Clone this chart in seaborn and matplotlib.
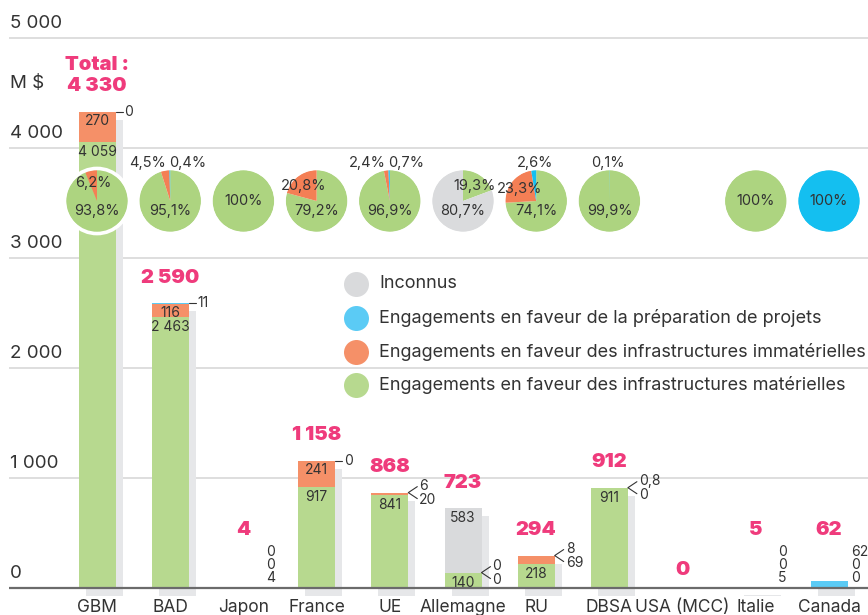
import numpy as np
import pandas as pd
import matplotlib
matplotlib.use("Agg")
import matplotlib.pyplot as plt
import matplotlib.transforms as mtransforms
from matplotlib.lines import Line2D
from matplotlib.patches import Circle
import seaborn as sns

# ---------------- data ----------------
categories = ["GBM", "BAD", "Japon", "France", "UE", "Allemagne", "RU",
              "DBSA", "USA (MCC)", "Italie", "Canada"]
materielles = [4059, 2463, 4, 917, 841, 140, 218, 911, 0, 5, 0]
immaterielles = [270, 116, 0, 241, 20, 0, 69, 0, 0, 0, 0]
preparation = [0, 11, 0, 0, 6, 0, 8, 0.8, 0, 0, 62]
inconnus = [0, 0, 0, 0, 0, 583, 0, 0, 0, 0, 0]
totals = [4330, 2590, 4, 1158, 868, 723, 294, 912, 0, 5, 62]

pct_materielles = [93.8, 95.1, 100, 79.2, 96.9, 19.3, 74.1, 99.9, 0, 100, 0]
pct_immaterielles = [6.2, 4.5, 0, 20.8, 2.4, 0, 23.3, 0, 0, 0, 0]
pct_preparation = [0, 0.4, 0, 0, 0.7, 0, 2.6, 0.1, 0, 0, 100]
pct_inconnus = [0, 0, 0, 0, 0, 80.7, 0, 0, 0, 0, 0]

y_ticks = [0, 1000, 2000, 3000, 4000, 5000]
y_tick_labels = ["0", "1 000", "2 000", "3 000", "4 000", "5 000"]
unit_label = "M $"
total_prefix = "Total :"
legend_labels = ["Inconnus",
                 "Engagements en faveur de la préparation de projets",
                 "Engagements en faveur des infrastructures immatérielles",
                 "Engagements en faveur des infrastructures matérielles"]

# ---------------- style ----------------
C_GREEN = "#b7d98f"
C_ORANGE = "#f59068"
C_BLUE = "#5bcbf5"
C_GRAY = "#d9dadc"
C_SHADOW = "#e6e7e9"
P_GREEN = "#add480"
P_ORANGE = "#f47f55"
P_BLUE = "#14bff0"
P_GRAY = "#dadbdd"
PINK = "#ef3b7c"
TXT = "#333333"

sns.set_style("white")
plt.rcParams["font.family"] = ["Inter", "DejaVu Sans"]

W, H = 868, 615
fig = plt.figure(figsize=(W / 100, H / 100), dpi=100)

# axes geometry (pixels)
ax_left_px, ax_right_px = 9, 868
ylim = (-100, 5010)
px_per_1000 = 110.0
base_px = 588
ax_h_px = (ylim[1] - ylim[0]) * px_per_1000 / 1000
ax_bottom_px = base_px + (-ylim[0]) * px_per_1000 / 1000
ax = fig.add_axes([ax_left_px / W, (H - ax_bottom_px) / H,
                   (ax_right_px - ax_left_px) / W, ax_h_px / H])
gbm_px, step_px = 97, 73.2
xlim = ((ax_left_px - gbm_px) / step_px, (ax_right_px - gbm_px) / step_px)

ux = (xlim[1] - xlim[0]) / (ax_right_px - ax_left_px)   # data per px
uy = (ylim[1] - ylim[0]) / ax_h_px
BW = 37 / step_px

df = pd.DataFrame({"cat": categories, "mat": materielles, "imm": immaterielles,
                   "prep": preparation, "inc": inconnus})
df["c1"] = df["mat"]
df["c2"] = df["c1"] + df["imm"]
df["c3"] = df["c2"] + df["prep"]
df["c4"] = df["c3"] + df["inc"]

# shadow bars (offset 7px right, 8px down)
n0 = len(ax.patches)
sns.barplot(data=df, x="cat", y="c4", color=C_SHADOW, saturation=1, width=BW,
            errorbar=None, ax=ax, linewidth=0, zorder=1)
shadow_tr = ax.transData + mtransforms.Affine2D().translate(7, -8)
for p in ax.patches[n0:]:
    p.set_transform(shadow_tr)

# stacked bars by overlay
for col, c in [("c4", C_GRAY), ("c3", C_BLUE), ("c2", C_ORANGE), ("c1", C_GREEN)]:
    sns.barplot(data=df, x="cat", y=col, color=c, saturation=1, width=BW,
                errorbar=None, ax=ax, linewidth=0, zorder=2)

ax.set_xlim(*xlim)
ax.set_ylim(*ylim)
for s in ax.spines.values():
    s.set_visible(False)
ax.set_xlabel("")
ax.set_ylabel("")
ax.set_yticks([])
ax.set_xticks(range(len(categories)))
ax.set_xticklabels(categories, fontsize=12.5, color=TXT)
ax.tick_params(axis="x", length=0, pad=0.3)

# grid + y labels
for v, lab in zip(y_ticks, y_tick_labels):
    if v == 0:
        ax.axhline(v, color="#6b6b6b", lw=1.6, zorder=6)
    else:
        ax.axhline(v, color="#d4d4d4", lw=1.1, zorder=0)
    ax.text(xlim[0] + 1 * ux, v + 14 * uy, lab, ha="left", va="center",
            fontsize=13.5, color=TXT)
ax.text(xlim[0] + 1 * ux, 4582, unit_label, ha="left", va="center",
        fontsize=13.5, color=TXT)


def fmt(v):
    if float(v).is_integer():
        return f"{int(v):,}".replace(",", " ")
    return f"{v:.1f}".replace(".", ",")


def fmtp(p):
    if float(p).is_integer():
        return f"{int(p)}%"
    return f"{p:.1f}".replace(".", ",") + "%"


small_fs = 10
pie_fs = 10.5
for i in range(len(categories)):
    mat, imm, prep, inc = materielles[i], immaterielles[i], preparation[i], inconnus[i]
    tot = totals[i]
    c3 = mat + imm + prep
    right = i + BW / 2
    # totals
    ty = (max(tot, 300) + 230) if tot > 0 else 160
    ax.text(i, ty, fmt(tot), ha="center", va="center", fontsize=14.5,
            fontweight="black", color=PINK, zorder=7)
    if i == 0:
        ax.text(i, ty + 21 * uy, total_prefix, ha="center", va="center",
                fontsize=14.5, fontweight="black", color=PINK, zorder=7)
    if tot <= 0:
        continue
    # inside labels
    if mat >= 100:
        ax.text(i, mat - 3 * uy, fmt(mat), ha="center", va="top",
                fontsize=small_fs, color=TXT, zorder=7)
    if imm >= 100:
        ax.text(i, mat + imm - 2 * uy, fmt(imm), ha="center", va="top",
                fontsize=small_fs, color=TXT, zorder=7)
    if inc >= 100:
        ax.text(i, c3 + inc - 3 * uy, fmt(inc), ha="center", va="top",
                fontsize=small_fs, color=TXT, zorder=7)
    # side labels
    if tot < 100:
        for k, v in enumerate([prep, imm, mat]):
            ax.text(right + 4 * ux, (36 - 13 * k) * uy, fmt(v), ha="left",
                    va="center", fontsize=small_fs, color=TXT, zorder=7)
    elif imm >= 100:
        ax.plot([right, right + 7 * ux], [c3, c3], color=TXT, lw=0.8, zorder=7)
        ax.text(right + 9 * ux, c3, fmt(prep), ha="left", va="center",
                fontsize=small_fs, color=TXT, zorder=7)
    else:
        ax.plot([right + 9 * ux, right, right + 9 * ux],
                [c3 + 6 * uy, c3, c3 - 6 * uy], color=TXT, lw=0.8, zorder=7)
        ax.text(right + 11 * ux, c3 + 7 * uy, fmt(prep), ha="left",
                va="center", fontsize=small_fs, color=TXT, zorder=7)
        ax.text(right + 11 * ux, c3 - 7 * uy, fmt(imm), ha="left",
                va="center", fontsize=small_fs, color=TXT, zorder=7)

# pies
pie_cy = (base_px - 201) * uy
pie_r_px = 31
for i in range(len(categories)):
    vals = [pct_materielles[i], pct_inconnus[i], pct_immaterielles[i], pct_preparation[i]]
    cols = [P_GREEN, P_GRAY, P_ORANGE, P_BLUE]
    kinds = ["mat", "inc", "imm", "prep"]
    if sum(vals) <= 0:
        continue
    w = 2 * pie_r_px * ux
    h = 2 * pie_r_px * uy
    pax = ax.inset_axes([i - w / 2, pie_cy - h / 2, w, h], transform=ax.transData,
                        zorder=8)
    keep = [(v, c, k) for v, c, k in zip(vals, cols, kinds) if v > 0]
    pax.pie([v for v, _, _ in keep], colors=[c for _, c, _ in keep],
            startangle=90, counterclock=False, radius=1,
            wedgeprops=dict(linewidth=0))
    pax.add_patch(Circle((0, 0), 1.05, fill=False, ec="white", lw=2.6,
                         clip_on=False))
    pax.set_xlim(-1, 1)
    pax.set_ylim(-1, 1)
    pax.set_aspect("equal")
    pax.axis("off")
    dom = max(v for v, _, _ in keep)
    small_imm = any(k == "imm" and v < 5 for v, _, k in keep)
    cum = 0.0
    for v, c, k in keep:
        a0 = 90 - cum * 3.6
        a1 = 90 - (cum + v) * 3.6
        cum += v
        lab = fmtp(v)
        if v == dom:
            y = 0 if v >= 100 else -10 / pie_r_px
            pax.text(0, y, lab, ha="center", va="center", fontsize=pie_fs,
                     color=TXT)
        elif v >= 5:
            am = np.deg2rad((a0 + a1) / 2)
            pax.text(0.68 * np.cos(am), 0.6 * np.sin(am), lab, ha="center",
                     va="center", fontsize=pie_fs, color=TXT)
        else:
            if k == "imm":
                pax.text(-0.13, 1.24, lab, ha="right", va="center",
                         fontsize=pie_fs, color=TXT, clip_on=False)
            elif small_imm:
                pax.text(-0.05, 1.24, lab, ha="left", va="center",
                         fontsize=pie_fs, color=TXT, clip_on=False)
            else:
                pax.text(-0.05, 1.24, lab, ha="center", va="center",
                         fontsize=pie_fs, color=TXT, clip_on=False)

# legend (manual)
leg_cols = [C_GRAY, C_BLUE, C_ORANGE, C_GREEN]
leg_y = [284, 318, 352, 385]
for lab, c, y in zip(legend_labels, leg_cols, leg_y):
    fig.add_artist(Line2D([356 / W], [1 - y / H], marker="o", ms=18,
                          color=c, mec="none", transform=fig.transFigure))
    fig.text(379 / W, 1 - y / H, lab, ha="left", va="center",
             fontsize=13, color=TXT)

fig.savefig("out.png", dpi=100, facecolor="white")
